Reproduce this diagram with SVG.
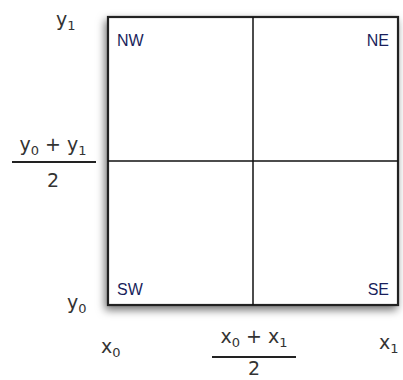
<svg xmlns="http://www.w3.org/2000/svg" width="403" height="380" viewBox="0 0 403 380">
<defs>
<filter id="sh" x="-20%" y="-20%" width="140%" height="140%">
<feDropShadow dx="-2" dy="4" stdDeviation="4" flood-color="#000" flood-opacity="0.55"/>
</filter>
<style>
.ax{font-family:"DejaVu Sans",sans-serif;font-size:19px;fill:#333}
.sub{font-size:13px}
.q{font-family:"Liberation Sans",sans-serif;font-size:16px;fill:#1a1f5c}
.div{stroke:#111;stroke-width:1.5;fill:none}
.frac{stroke:#222;stroke-width:1.8}
</style>
</defs>
<rect width="403" height="380" fill="#fff"/>
<g id="box">
<rect x="108" y="17" width="290" height="288" fill="#fff" stroke="#222" stroke-width="2.2" filter="url(#sh)"/>
</g>
<g id="dividers">
<line class="div" x1="253" y1="17" x2="253" y2="305"/>
<line class="div" x1="108" y1="161" x2="398" y2="161"/>
</g>
<g id="NW"><text class="q" x="117" y="46">NW</text></g>
<g id="NE"><text class="q" x="389" y="46" text-anchor="end">NE</text></g>
<g id="SW"><text class="q" x="117" y="295">SW</text></g>
<g id="SE"><text class="q" x="389" y="295" text-anchor="end">SE</text></g>
<g id="y1"><text class="ax" x="56" y="26">y<tspan class="sub" dy="4">1</tspan></text></g>
<g id="ymid">
<text class="ax" x="53" y="151" text-anchor="middle">y<tspan class="sub" dy="4">0</tspan><tspan dy="-4"> + y</tspan><tspan class="sub" dy="4">1</tspan></text>
<line class="frac" x1="12" y1="162" x2="96" y2="162"/>
<text class="ax" x="53" y="187" text-anchor="middle">2</text>
</g>
<g id="y0"><text class="ax" x="67" y="309">y<tspan class="sub" dy="4">0</tspan></text></g>
<g id="x0"><text class="ax" x="101" y="353">x<tspan class="sub" dy="4">0</tspan></text></g>
<g id="xmid">
<text class="ax" x="254" y="343" text-anchor="middle">x<tspan class="sub" dy="4">0</tspan><tspan dy="-4"> + x</tspan><tspan class="sub" dy="4">1</tspan></text>
<line class="frac" x1="212" y1="357" x2="296" y2="357"/>
<text class="ax" x="254" y="375" text-anchor="middle">2</text>
</g>
<g id="x1"><text class="ax" x="379" y="349">x<tspan class="sub" dy="4">1</tspan></text></g>
</svg>
